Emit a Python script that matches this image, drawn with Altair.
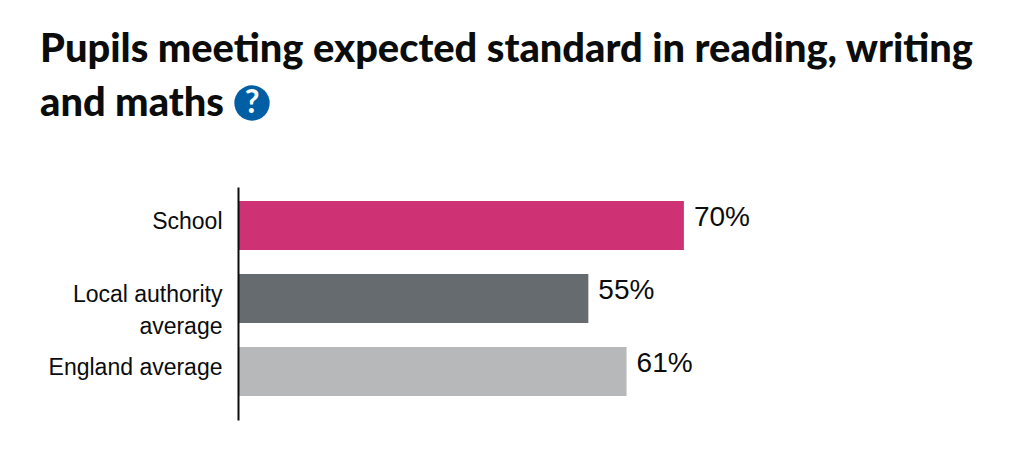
import altair as alt
import pandas as pd

categories = ["School", "Local authority average", "England average"]
values = [70, 55, 61]
value_labels = ["70%", "55%", "61%"]
colors = ["#cf3274", "#656b6e", "#b7b8ba"]
title_lines = ["Pupils meeting expected standard in reading, writing", "and maths"]

df = pd.DataFrame({"category": categories, "value": values, "label": value_labels, "color": colors})

y = alt.Y(
    "category:N",
    sort=categories,
    title=None,
    scale=alt.Scale(paddingInner=24 / 73, paddingOuter=19 / 73, align=14 / 38),
    axis=alt.Axis(
        ticks=False,
        grid=False,
        zindex=1,
        domainColor="#0b0c0c",
        domainWidth=2,
        labelFont="Liberation Sans",
        labelFontSize=23,
        labelColor="#0b0c0c",
        labelPadding=16,
        labelLimit=0,
        labelBaseline="alphabetic",
        labelOffset=3.5,
        labelLineHeight=32,
        labelExpr="datum.label == 'Local authority average' ? ['Local authority', 'average'] : datum.label",
    ),
)
x = alt.X("value:Q", scale=alt.Scale(domain=[0, 100], nice=False), axis=None)

base = alt.Chart(df)
bars = base.mark_bar(cornerRadius=0).encode(x=x, y=y, color=alt.Color("color:N", scale=None, legend=None))
texts = base.mark_text(
    align="left", dx=10, dy=-8, font="Liberation Sans", fontSize=28, color="#0b0c0c"
).encode(x=x, y=alt.Y("category:N", sort=categories), text="label:N")

icon_df = pd.DataFrame({"q": ["?"]})
icon = alt.Chart(icon_df).mark_point(filled=True, shape="circle", size=1250, color="#005ea5", opacity=1).encode(
    x=alt.value(14), y=alt.value(-84)
)
icon_q = alt.Chart(icon_df).mark_text(
    font="Lato", fontWeight="bold", fontSize=32, color="white", align="center", baseline="middle"
).encode(x=alt.value(14), y=alt.value(-84), text="q:N")

chart = (
    alt.layer(bars, texts, icon, icon_q)
    .resolve_scale(y="shared")
    .properties(
        width=637,
        height=233,
        autosize=alt.AutoSizeParams(type="none"),
        padding={"left": 230, "top": 179, "right": 130, "bottom": 20},
        title=alt.TitleParams(
            text=title_lines,
            anchor="start",
            frame="group",
            font="Lato",
            fontWeight=900,
            fontSize=39.8,
            lineHeight=54,
            color="#0b0c0c",
            dx=-198,
            offset=-39,
        ),
    )
    .configure_view(stroke=None)
)
chart.save("out.html", embed_options={"renderer": "svg", "actions": False})
